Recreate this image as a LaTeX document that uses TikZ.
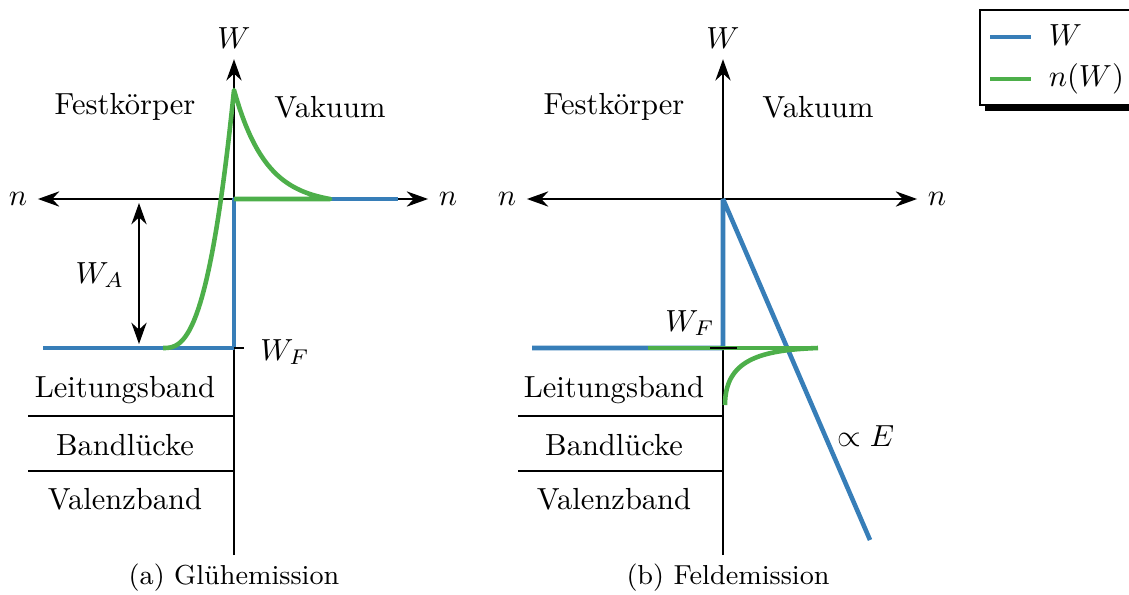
\documentclass[tikz,border=0pt]{standalone}
\usepackage{amsmath}
\usepackage{tikz}
\usetikzlibrary{positioning, arrows.meta}
\definecolor{wblue}{HTML}{377EB8}
\definecolor{ngreen}{HTML}{4DAF4A}

\begin{document}
\begin{tikzpicture}[x=0.011515cm, y=-0.011515cm,
    >={Stealth[length=7pt,width=5pt]},
    axis/.style={semithick},
    wline/.style={wblue, line width=1.5pt, line join=bevel},
    nline/.style={ngreen, line width=1.5pt, line join=round},
    subcap/.style={font=\small}]
  \useasboundingbox (0,0) rectangle (1129,594);
  \clip (0,0) rectangle (1129,594);

  % (a) Gluehemission
  \node (Wa) at (234,38) {$W$};
  \node (nla) at (18,199) {$n$};
  \node (nra) at (448,199) {$n$};
  \coordinate (bota) at (234,555);
  \coordinate (wfa) at (234,348);
  \coordinate (oa) at (234,199);
  \draw[axis,->] (bota) -- (Wa);
  \draw[axis,<->] (nla) -- (nra);
  \node (fka) at (125,107) {Festk\"orper};
  \node (vaa) at (330,107) {Vakuum};
  \draw[axis] (28,416) -- (234,416);
  \draw[axis] (28,471) -- (234,471);
  \node (lba) at (125,390) {Leitungsband};
  \node (bla) at (125,445) {Bandl\"ucke};
  \node (vba) at (125,499) {Valenzband};
  \node[subcap] (capa) at (234,578) {(a) Gl\"uhemission};
  % W_A
  \coordinate (wat) at (139,203);
  \coordinate (wab) at (139,344);
  \draw[axis,<->] (wat) -- (wab);
  \node (WAa) at (100,275) {$W_A$};
  \draw[wline] (43,348) -- (wfa) -- (oa) -- (398,199);
  \draw[nline] plot[domain=0.001:1, samples=50] ({163+71*\x}, {348-258*\x^2.7})
    -- plot[domain=0:1, samples=50] ({234+96*\x}, {199-109*(exp(-3*\x)-exp(-3))/(1-exp(-3))})
    -- (oa);
  \node (WFa) at (285,352) {$W_F$};
  \draw[axis] (wfa) -- ++(10,0);

  % (b) Feldemission
  \begin{scope}[shift={(489,0)}]
    \node (Wb) at (234,38) {$W$};
    \node (nlb) at (18,199) {$n$};
    \node (nrb) at (448,199) {$n$};
    \coordinate (botb) at (234,555);
    \coordinate (wfb) at (234,348);
    \coordinate (ob) at (234,199);
    \draw[axis,->] (botb) -- (Wb);
    \draw[axis,<->] (nlb) -- (nrb);
    \node (fkb) at (125,107) {Festk\"orper};
    \node (vab) at (329,107) {Vakuum};
    \draw[axis] (29,416) -- (234,416);
    \draw[axis] (29,471) -- (234,471);
    \node (lbb) at (125,390) {Leitungsband};
    \node (blb) at (125,445) {Bandl\"ucke};
    \node (vbb) at (125,499) {Valenzband};
    \node[subcap] (capb) at (239,578) {(b) Feldemission};
    \coordinate (eb) at (381,540);
    \draw[wline] (43,348) -- (wfb) -- (ob) -- (eb);
    \draw[nline] (159,348) -- (329,348);
    \draw[nline] (236,405) .. controls (236,360) and (271,350) .. (329,348);
    \draw[axis] (221,348) -- (248,348);
    \node (WFb) at (201,323) {$W_F$};
    \node (Eb) at (377,436) {$\propto E$};
  \end{scope}

  % legend
  \fill (985,16) rectangle (1150,111);
  \draw[fill=white] (980,10) rectangle (1150,105);
  \draw[wline] (990,37) -- (1031,37);
  \draw[nline] (990,79) -- (1031,79);
  \node[anchor=west] (lgW) at (1038,35) {$W$};
  \node[anchor=west] (lgn) at (1038,79) {$n(W)$};
\end{tikzpicture}
\end{document}
